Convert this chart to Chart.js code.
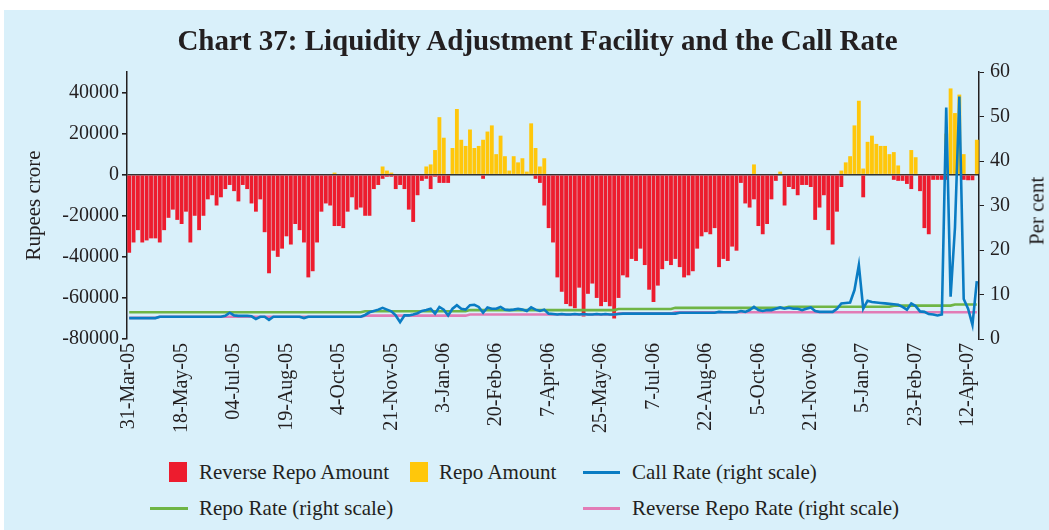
<!DOCTYPE html>
<html>
<head>
<meta charset="utf-8">
<script src="https://cdn.jsdelivr.net/npm/chart.js@4.4.0/dist/chart.umd.min.js"></script>
<style>
  html, body { margin: 0; padding: 0; background: #fff; }
  #panel { position: absolute; left: 4px; top: 10px; width: 1045px; height: 520px; background: #d9f0fa; }
  #wrap { position: absolute; left: 0; top: 0; width: 1049px; height: 449px; }
  .txt { position: absolute; font-family: 'Liberation Serif', 'Times New Roman', serif; color: #231f20; white-space: nowrap; }
  #title { left: 0; width: 1075px; top: 24px; text-align: center; font-size: 29px; font-weight: bold; line-height: 33px; }
  #ytitle2 { font-size: 21px; left: 1037px; top: 211px; transform: translate(-50%, -50%) rotate(-90deg); }
  .leg { font-size: 21px; line-height: 24px; }
  .box { position: absolute; width: 18px; height: 20px; }
  .ln { position: absolute; height: 3px; }
</style>
</head>
<body>
<div id="panel"></div>
<div id="wrap"><canvas id="lafChart"></canvas></div>
<div class="txt" id="title">Chart 37: Liquidity Adjustment Facility and the Call Rate</div>
<div class="txt" id="ytitle2">Per cent</div>

<div class="box" style="left:169px; top:462px; background:#ed1c2e;"></div>
<div class="txt leg" style="left:199px; top:460px;">Reverse Repo Amount</div>
<div class="box" style="left:410px; top:462px; background:#ffc70b;"></div>
<div class="txt leg" style="left:439px; top:460px;">Repo Amount</div>
<div class="ln" style="left:583px; top:471px; width:37px; background:#0a7cc3;"></div>
<div class="txt leg" style="left:632px; top:460px;">Call Rate (right scale)</div>
<div class="ln" style="left:150px; top:507px; width:38px; background:#6fb545;"></div>
<div class="txt leg" style="left:199px; top:496px;">Repo Rate (right scale)</div>
<div class="ln" style="left:583px; top:507px; width:37px; background:#e27cb6;"></div>
<div class="txt leg" style="left:632px; top:496px;">Reverse Repo Rate (right scale)</div>

<script>
// x axis: one label every 12 observations
const tickLabels = ['31-Mar-05', '18-May-05', '04-Jul-05', '19-Aug-05', '4-Oct-05', '21-Nov-05',
    '3-Jan-06', '20-Feb-06', '7-Apr-06', '25-May-06', '7-Jul-06', '22-Aug-06', '5-Oct-06',
    '21-Nov-06', '5-Jan-07', '23-Feb-07', '12-Apr-07'];
const obsPerTick = 12;
const amountTicks = [-80000, -60000, -40000, -20000, 0, 20000, 40000];
const rateTicks = [0, 10, 20, 30, 40, 50, 60];

// Rupees crore (negative = absorption under reverse repo)
const reverseRepo = [
    -38000, -33000, -27000, -33000, -32000, -31000, -31000, -33000, -27000, -21000, -17000, -22000,
    -24000, -18000, -33000, -20000, -27000, -20000, -12000, -10000, -15000, -11000, -7000, -5000,
    -8000, -13000, -5000, -7000, -14000, -18000, -12000, -28000, -48000, -37000, -40000, -36000,
    -30000, -34000, -24000, -27000, -33000, -50000, -47000, -33000, -18000, -14000, -15000, -25000,
    -25000, -26000, -18000, -11000, -17000, -16000, -20000, -20000, -7000, -5000, -2000, -1000,
    -1000, -7000, -5000, -7000, -17000, -23000, -10000, -3000, -2000, -7000, -1000, -4000,
    -4000, -4000, 0, 0, 0, 0, 0, 0, 0, -2000, 0, 0,
    0, 0, 0, 0, 0, 0, 0, 0, 0, -2000, -4000, -15000,
    -26000, -33000, -50000, -57000, -63000, -64000, -65000, -55000, -69000, -58000, -53000, -60000,
    -64000, -62000, -64000, -70000, -60000, -49000, -50000, -41000, -42000, -36000, -44000, -56000,
    -62000, -54000, -46000, -42000, -44000, -41000, -45000, -50000, -49000, -47000, -36000, -30000,
    -28000, -29000, -26000, -45000, -41000, -42000, -35000, -37000, -4000, -14000, -16000, -12000,
    -25000, -29000, -24000, -12000, -3000, 0, -15000, -6000, -7000, -10000, -5000, -5000,
    -6000, -22000, -16000, -10000, -27000, -34000, -18000, -6000, 0, 0, 0, 0,
    -11000, 0, 0, 0, 0, 0, 0, -2500, -3000, -3000, -4500, -7000,
    0, -8000, -26000, -29000, -2500, -2500, -2500, -2500, 0, 0, 0, -2500,
    -2700, -2700, 0
];
const repo = [
    0, 0, 0, 0, 0, 0, 0, 0, 0, 0, 0, 0,
    0, 0, 0, 0, 0, 0, 0, 0, 0, 0, 0, 0,
    0, 0, 0, 0, 0, 0, 0, 0, 0, 0, 0, 0,
    0, 0, 0, 0, 0, 0, 0, 0, 0, 0, 0, 1000,
    0, 0, 0, 0, 0, 0, 0, 0, 0, 0, 4000, 2000,
    1000, 0, 0, 0, 0, 0, 0, 0, 4000, 5000, 12000, 28000,
    18000, 0, 13000, 32000, 17000, 14000, 22000, 13000, 14000, 17000, 21000, 24000,
    10000, 19000, 9000, 2000, 9000, 6000, 8000, 1500, 25000, 13000, 4000, 8000,
    0, 0, 0, 0, 0, 0, 0, 0, 0, 0, 0, 0,
    0, 0, 0, 0, 0, 0, 0, 0, 0, 0, 0, 0,
    0, 0, 0, 0, 0, 0, 0, 0, 0, 0, 0, 0,
    0, 0, 0, 0, 0, 0, 0, 0, 0, 0, 0, 5000,
    0, 0, 0, 0, 0, 1500, 0, 0, 0, 0, 0, 0,
    0, 0, 0, 0, 0, 0, 0, 2000, 6000, 9000, 24000, 36000,
    3000, 16000, 19000, 15000, 14000, 14000, 10000, 11000, 4500, 0, 0, 12000,
    8500, 0, 0, 0, 0, 0, 0, 20000, 42000, 30000, 39000, 10000,
    0, 0, 17000
];

// Per cent
const callRate = [
    4.7, 4.7, 4.7, 4.7, 4.7, 4.7, 4.7, 5.0, 5.0, 5.0, 5.0, 5.0,
    5.0, 5.0, 5.0, 5.0, 5.0, 5.0, 5.0, 5.0, 5.0, 5.0, 5.2, 5.9,
    5.3, 5.2, 5.2, 5.2, 5.1, 4.5, 5.0, 5.0, 4.3, 5.0, 5.0, 5.0,
    5.0, 5.0, 5.0, 5.0, 4.7, 5.0, 5.0, 5.0, 5.0, 5.0, 5.0, 5.0,
    5.0, 5.0, 5.0, 5.0, 5.0, 5.0, 5.4, 6.0, 6.3, 6.6, 7.0, 6.6,
    6.2, 5.3, 3.8, 5.3, 5.3, 5.5, 5.8, 6.3, 6.5, 6.8, 5.7, 7.2,
    6.6, 5.3, 6.8, 7.6, 6.8, 6.6, 7.6, 7.7, 7.2, 5.9, 7.1, 6.8,
    6.8, 7.2, 6.6, 6.5, 6.6, 6.8, 6.6, 6.3, 7.1, 6.6, 6.3, 6.6,
    5.7, 5.6, 5.5, 5.6, 5.5, 5.5, 5.6, 5.5, 5.6, 5.5, 5.5, 5.6,
    5.5, 5.6, 5.5, 5.5, 5.6, 5.7, 5.7, 5.7, 5.7, 5.7, 5.7, 5.7,
    5.7, 5.7, 5.7, 5.7, 5.7, 5.7, 5.9, 5.9, 5.9, 5.9, 5.9, 5.9,
    5.9, 5.9, 5.9, 6.1, 6.0, 6.0, 6.0, 6.0, 6.3, 6.1, 6.5, 7.2,
    6.5, 6.3, 6.5, 6.5, 6.8, 7.1, 6.8, 7.0, 6.8, 6.8, 6.5, 6.8,
    7.1, 6.3, 6.1, 6.1, 6.1, 6.1, 6.8, 8.0, 8.1, 8.2, 11.0, 16.6,
    6.8, 8.6, 8.3, 8.2, 8.1, 8.0, 7.9, 7.8, 7.7, 7.2, 6.6, 8.0,
    7.4, 6.2, 6.1, 5.6, 5.5, 5.3, 5.5, 52.0, 9.5, 25.0, 54.5, 9.0,
    6.8, 3.2, 13.0
];

// policy rates: [first observation, rate]
const repoRateSteps = [[0, 6.0], [54, 6.25], [78, 6.5], [112, 6.75], [125, 7.0], [151, 7.25], [175, 7.5], [189, 7.75]];
const reverseRepoRateSteps = [[0, 4.75], [7, 5.0], [54, 5.25], [78, 5.5], [112, 5.75], [125, 6.0]];

const n = callRate.length;
const labels = [];
for (let i = 0; i < n; i++) {
    labels.push(i % obsPerTick === 0 ? (tickLabels[i / obsPerTick] || '') : '');
}
function expandSteps(steps) {
    const out = [];
    for (let i = 0; i < n; i++) {
        let v = steps[0][1];
        steps.forEach(s => { if (i >= s[0]) v = s[1]; });
        out.push(v);
    }
    return out;
}
const repoRate = expandSteps(repoRateSteps);
const reverseRepoRate = expandSteps(reverseRepoRateSteps);

const serif = "'Liberation Serif', 'Times New Roman', serif";
const ink = '#231f20';

new Chart(document.getElementById('lafChart'), {
    type: 'bar',
    data: {
        labels: labels,
        datasets: [
            { type: 'line', label: 'Call Rate (right scale)', data: callRate, yAxisID: 'y1',
              borderColor: '#0a7cc3', borderWidth: 2.6, pointRadius: 0, tension: 0, order: 0 },
            { type: 'line', label: 'Repo Rate (right scale)', data: repoRate, yAxisID: 'y1',
              borderColor: '#6fb545', borderWidth: 2.6, pointRadius: 0, tension: 0, order: 1 },
            { type: 'line', label: 'Reverse Repo Rate (right scale)', data: reverseRepoRate, yAxisID: 'y1',
              borderColor: '#e27cb6', borderWidth: 2.6, pointRadius: 0, tension: 0, order: 2 },
            { label: 'Reverse Repo Amount', data: reverseRepo, backgroundColor: '#ed1c2e',
              barPercentage: 1, categoryPercentage: 0.88, order: 3 },
            { label: 'Repo Amount', data: repo, backgroundColor: '#ffc70b',
              barPercentage: 1, categoryPercentage: 0.88, order: 4 }
        ]
    },
    options: {
        responsive: true,
        maintainAspectRatio: false,
        animation: false,
        layout: { padding: { left: 18, right: 0, top: 72, bottom: 0 } },
        plugins: { legend: { display: false }, tooltip: { enabled: false } },
        scales: {
            x: {
                stacked: true,
                grid: { display: false, drawTicks: false },
                border: { display: false },
                ticks: {
                    autoSkip: false, minRotation: 90, maxRotation: 90, padding: 4,
                    color: ink, font: { family: serif, size: 20 },
                    callback: (v, i) => labels[i]
                },
                afterFit: s => { s.height = 110; }
            },
            y: {
                stacked: true,
                min: -80000, max: 50000,
                afterBuildTicks: s => { s.ticks = amountTicks.map(v => ({ value: v })); },
                ticks: { padding: 3, color: ink, font: { family: serif, size: 20 },
                         callback: v => String(v) },
                grid: { color: c => c.tick && c.tick.value === 0 ? '#333' : 'transparent',
                        lineWidth: 1.6, tickColor: ink, tickLength: 5 },
                border: { display: true, color: ink, width: 1.5 },
                title: { display: true, text: 'Rupees crore', color: ink, font: { family: serif, size: 21 } },
                afterFit: s => { s.width = 109; }
            },
            y1: {
                position: 'right',
                min: 0, max: 60,
                afterBuildTicks: s => { s.ticks = rateTicks.map(v => ({ value: v })); },
                ticks: { padding: 6, color: ink, font: { family: serif, size: 20 } },
                grid: { drawOnChartArea: false, tickColor: ink, tickLength: 5 },
                border: { display: true, color: ink, width: 1.5 },
                afterFit: s => { s.width = 70; }
            }
        }
    }
});
</script>
</body>
</html>
